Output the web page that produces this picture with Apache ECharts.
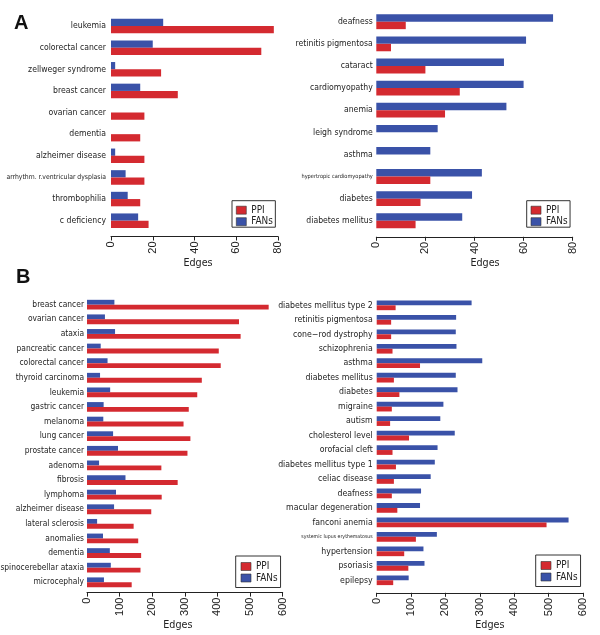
<!DOCTYPE html>
<html>
<head>
<meta charset="utf-8">
<script src="https://cdn.jsdelivr.net/npm/echarts@6/dist/echarts.min.js"></script>
<style>html,body{margin:0;padding:0;background:#fff}#c{width:600px;height:635px}</style>
</head>
<body>
<div id="c"></div>
<script>
// ---------- data ----------
const aLeftCats = ['leukemia','colorectal cancer','zellweger syndrome','breast cancer','ovarian cancer','dementia','alzheimer disease','arrhythm. r.ventricular dysplasia','thrombophilia','c deficiency'];
const aLeftPPI  = [78,72,24,32,16,14,16,16,14,18];
const aLeftFANs = [25,20,2,14,0,0,2,7,8,13];

const aRightCats = ['deafness','retinitis pigmentosa','cataract','cardiomyopathy','anemia','leigh syndrome','asthma','hypertropic cardiomyopathy','diabetes','diabetes mellitus'];
const aRightPPI  = [12,6,20,34,28,0,0,22,18,16];
const aRightFANs = [72,61,52,60,53,25,22,43,39,35];

const bLeftCats = ['breast cancer','ovarian cancer','ataxia','pancreatic cancer','colorectal cancer','thyroid carcinoma','leukemia','gastric cancer','melanoma','lung cancer','prostate cancer','adenoma','fibrosis','lymphoma','alzheimer disease','lateral sclerosis','anomalies','dementia','spinocerebellar ataxia','microcephaly'];
const bLeftPPI  = [557,466,471,404,410,352,338,312,296,317,308,228,278,229,197,143,157,166,164,137];
const bLeftFANs = [84,55,86,42,63,40,71,51,50,80,95,37,118,89,83,31,49,70,73,52];

const bRightCats = ['diabetes mellitus type 2','retinitis pigmentosa','cone\u2212rod dystrophy','schizophrenia','asthma','diabetes mellitus','diabetes','migraine','autism','cholesterol level','orofacial cleft','diabetes mellitus type 1','celiac disease','deafness','macular degeneration','fanconi anemia','systemic lupus erythematosus','hypertension','psoriasis','epilepsy'];
const bRightPPI  = [55,42,42,46,126,50,66,44,39,94,46,56,50,44,60,494,114,80,92,48];
const bRightFANs = [276,231,230,232,307,230,235,194,185,227,177,169,157,129,126,558,175,136,139,93];

const aTicksMax = 80, aTicksStep = 20;
const bTicksMax = 600, bTicksStep = 100;
const axisTitle = 'Edges';
const legendNames = ['PPI','FANs'];

// ---------- styling ----------
const RED = '#d42a30', BLUE = '#3a52a8';
const NARROW = "'DejaVu Sans Condensed','Liberation Sans',sans-serif";
const SANS = "'Liberation Sans',Arial,sans-serif";
const smallSizes = {'arrhythm. r.ventricular dysplasia':'s1','hypertropic cardiomyopathy':'s2','systemic lupus erythematosus':'s3'};

const panels = [
  {cats:aLeftCats, ppi:aLeftPPI, fans:aLeftFANs, max:aTicksMax, step:aTicksStep,
   grid:{left:111, top:15.2, width:167, height:216.3}, offset:5, lblSize:8.6, lblMargin:5, nameGap:15, nameShift:3.5,
   legend:{left:232, top:200.7, padding:[4,2.5,0,4]}},
  {cats:aRightCats, ppi:aRightPPI, fans:aRightFANs, max:aTicksMax, step:aTicksStep,
   grid:{left:376.3, top:10.7, width:196.4, height:221.1}, offset:5, lblSize:8.6, lblMargin:3.5, nameGap:15, nameShift:10.5,
   legend:{left:526.7, top:200.7, padding:[4,2.5,0,4]}},
  {cats:bLeftCats, ppi:bLeftPPI, fans:bLeftFANs, max:bTicksMax, step:bTicksStep,
   grid:{left:87, top:297.4, width:195.7, height:292.2}, offset:3, lblSize:8.4, lblMargin:3, nameGap:26, nameShift:-7,
   legend:{left:235.7, top:556, padding:[5,3,4,5]}},
  {cats:bRightCats, ppi:bRightPPI, fans:bRightFANs, max:bTicksMax, step:bTicksStep,
   grid:{left:376.7, top:298.1, width:206.3, height:289.4}, offset:5.3, lblSize:8.7, lblMargin:4, nameGap:26, nameShift:10,
   legend:{left:535.7, top:555, padding:[5,3,4,5]}}
];

const option = {
  animation:false,
  backgroundColor:'#fff',
  title:[
    {text:'A', left:14, top:13, padding:0, textStyle:{fontFamily:SANS, fontSize:20, fontWeight:'bold', color:'#111'}},
    {text:'B', left:16, top:267, padding:0, textStyle:{fontFamily:SANS, fontSize:20, fontWeight:'bold', color:'#111'}}
  ],
  grid:[], xAxis:[], yAxis:[], series:[], legend:[]
};

panels.forEach((p,i)=>{
  option.grid.push(Object.assign({containLabel:false, outerBoundsMode:'none'}, p.grid));
  const pad = p.nameShift>=0 ? [0,0,0,2*p.nameShift] : [0,-2*p.nameShift,0,0];
  option.xAxis.push({
    gridIndex:i, type:'value', min:0, max:p.max, interval:p.step, offset:p.offset,
    name:axisTitle, nameLocation:'middle', nameGap:p.nameGap,
    nameTextStyle:{fontFamily:NARROW, fontSize:10.7, color:'#222', padding:pad},
    axisLine:{show:true, lineStyle:{color:'#222', width:1}},
    axisTick:{show:true, length:4, lineStyle:{color:'#222'}},
    axisLabel:{rotate:90, margin:5, fontFamily:SANS, fontSize:11, color:'#222'},
    splitLine:{show:false}
  });
  option.yAxis.push({
    gridIndex:i, type:'category', data:p.cats, inverse:true,
    axisLine:{show:false}, axisTick:{show:false}, splitLine:{show:false},
    axisLabel:{margin:p.lblMargin, fontFamily:NARROW, fontSize:p.lblSize, color:'#222', interval:0,
      formatter:(v)=> smallSizes[v] ? '{'+smallSizes[v]+'|'+v+'}' : v,
      rich:{s1:{fontFamily:NARROW, fontSize:6.8, color:'#222'}, s2:{fontFamily:NARROW, fontSize:5.6, color:'#222'}, s3:{fontFamily:NARROW, fontSize:5.2, color:'#222'}}}
  });
  option.series.push({
    name:'FANs', type:'bar', xAxisIndex:i, yAxisIndex:i, data:p.fans,
    barCategoryGap:'33%', barGap:'0%', itemStyle:{color:BLUE}
  });
  option.series.push({
    name:'PPI', type:'bar', xAxisIndex:i, yAxisIndex:i, data:p.ppi,
    barCategoryGap:'33%', barGap:'0%', itemStyle:{color:RED}
  });
  option.legend.push({
    data:legendNames, orient:'vertical', left:p.legend.left, top:p.legend.top, padding:p.legend.padding,
    itemWidth:10, itemHeight:8, itemGap:0.5, icon:'rect', selectedMode:false,
    borderColor:'#333', borderWidth:1,
    itemStyle:{borderColor:'#333', borderWidth:0.6},
    textStyle:{fontFamily:NARROW, fontSize:9.9, color:'#222', lineHeight:11}
  });
});

const chart = echarts.init(document.getElementById('c'), null, {renderer:'canvas'});
chart.setOption(option);
</script>
</body>
</html>
